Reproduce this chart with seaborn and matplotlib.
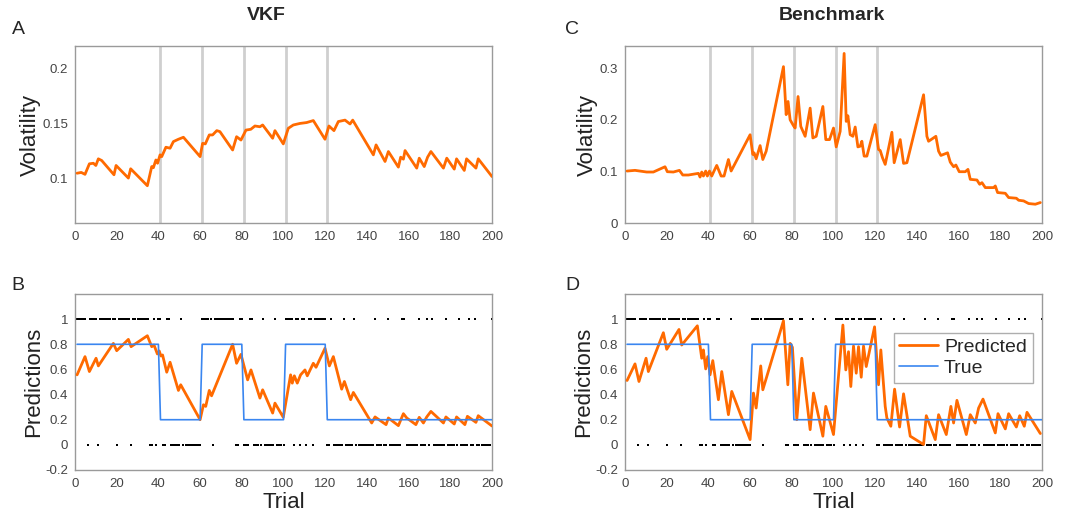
import numpy as np
import pandas as pd
import matplotlib
matplotlib.use("Agg")
import matplotlib.pyplot as plt
import seaborn as sns

# Datos
trials = list(range(1, 201))
outcomes = [
    1, 1, 1, 1, 1, 0, 1, 1, 1, 1, 0, 1, 1, 1, 1, 1, 1, 1, 1, 0,
    1, 1, 1, 1, 1, 1, 0, 1, 1, 1, 1, 1, 1, 1, 1, 0, 0, 1, 0, 1,
    1, 0, 0, 1, 1, 0, 0, 0, 0, 0, 1, 0, 0, 0, 0, 0, 0, 0, 0, 0,
    1, 1, 1, 1, 1, 0, 1, 1, 1, 1, 1, 1, 1, 1, 1, 1, 0, 0, 1, 1,
    0, 0, 0, 1, 1, 0, 0, 0, 0, 1, 0, 0, 0, 0, 0, 1, 0, 0, 0, 0,
    1, 1, 1, 1, 0, 1, 1, 0, 1, 1, 0, 1, 1, 0, 1, 1, 1, 1, 1, 1,
    0, 0, 1, 0, 0, 0, 0, 0, 1, 0, 0, 0, 0, 1, 0, 0, 0, 0, 0, 0,
    0, 0, 0, 1, 0, 0, 0, 0, 0, 1, 0, 0, 0, 0, 0, 0, 1, 1, 0, 0,
    0, 0, 0, 0, 1, 0, 0, 0, 1, 0, 1, 0, 0, 0, 0, 0, 0, 1, 0, 0,
    0, 0, 0, 1, 0, 0, 0, 0, 1, 0, 0, 1, 0, 0, 0, 0, 0, 0, 0, 1,
]
change_points = [41, 61, 81, 101, 121]

true_x = [1, 40, 41, 60, 61, 80, 81, 100, 101, 120, 121, 200]
true_y = [0.8, 0.8, 0.2, 0.2, 0.8, 0.8, 0.2, 0.2, 0.8, 0.8, 0.2, 0.2]

vkf_vol = [
    (1, .105), (3, .1057), (4.8, .104), (6.9, .1135), (8.8, .114), (10, .112),
    (11.2, .118), (12.8, .1165), (18.7, .1036), (19.7, .112), (25.6, .1006),
    (26.7, .109), (34.7, .0937), (36.8, .111), (37.6, .110), (38.8, .117),
    (39.6, .114), (40.8, .1216), (41.6, .120), (43.6, .1285), (45.6, .1276),
    (47.2, .1336), (49.6, .1357), (52, .1375), (60, .120), (61.2, .132),
    (62.5, .1315), (64.4, .1396), (66, .1396), (68, .1435), (69.5, .1426),
    (75.6, .126), (77.5, .138), (79.6, .135), (82, .144), (84.3, .1447),
    (86.3, .1477), (88.7, .147), (90, .1486), (94.8, .1366), (95.9, .1435),
    (99.9, .1315), (102.3, .1456), (104.7, .1486), (107.9, .150), (111.1, .1508),
    (112.7, .1517), (114.3, .1526), (119.9, .1357), (121.8, .1477), (124.2, .1435),
    (126.3, .1517), (129.5, .153), (131.9, .1495), (133.2, .153), (143.1, .1216),
    (144.4, .1306), (148.7, .1156), (150.3, .1246), (155.1, .1105), (156.2, .1195),
    (157.5, .1177), (158.3, .1255), (163.9, .1096), (165.1, .1186), (167.5, .111),
    (169.1, .1195), (170.7, .1246), (176.7, .1096), (178.3, .1186), (181.9, .1087),
    (183, .118), (186.7, .1075), (187.8, .118), (192.3, .1096), (193.4, .118),
    (200, .102),
]

bench_vol = [
    (1, .1007), (4.8, .102), (10.4, .0988), (13.6, .0988), (19.2, .109),
    (20.3, .0994), (23.2, .0988), (26.1, .102), (27.7, .093), (30.4, .093),
    (35.2, .0962), (36, .089), (36.8, .0988), (37.6, .091), (38.7, .1007),
    (39.5, .091), (40.5, .1007), (41.6, .091), (42.7, .1007), (44, .1116),
    (46.1, .091), (47.5, .091), (49.6, .123), (50.9, .1007), (60, .171),
    (61.3, .1328), (61.9, .136), (62.9, .1244), (64.8, .150), (66.1, .123),
    (67.7, .139), (76, .303), (77.3, .210), (78.2, .2355), (79.2, .200),
    (80.8, .1886), (81.6, .184), (83, .2451), (84.3, .1873), (86.4, .168),
    (88.8, .2226), (90.1, .1648), (91.7, .168), (94.9, .2258), (96.3, .1616),
    (98.1, .1616), (100, .184), (101.3, .1475), (103.2, .1777), (105.1, .3286),
    (106.1, .1969), (106.9, .2078), (108, .1712), (109.3, .168), (110.4, .186),
    (111.7, .1475), (112.8, .1488), (113.6, .1584), (114.7, .1296), (116, .1296),
    (120, .1906), (121.6, .1424), (122.4, .1405), (123.5, .1264), (124.8, .1136),
    (128, .1758), (129.1, .1168), (132, .1616), (133.6, .1155), (135.2, .1168),
    (143.2, .2485), (144.8, .168), (145.6, .1584), (149.1, .168), (150.4, .1392),
    (151.5, .1309), (154.7, .136), (156, .118), (157.6, .109), (158.7, .1123),
    (160.3, .0994), (163.2, .0994), (164.5, .1039), (165.6, .0846), (168.8, .0833),
    (170.1, .075), (171.2, .0782), (172.8, .0686), (176.8, .0686), (177.6, .0718),
    (178.7, .059), (182.4, .0576), (184, .0493), (187.7, .048), (188.8, .0441),
    (191.2, .0428), (193.6, .0377), (196.8, .0364), (199.2, .0396),
]

vkf_pred = [
    (1, .557), (4.8, .702), (6.9, .583), (10.1, .689), (11.2, .628), (18.4, .807),
    (20, .749), (25.6, .839), (26.9, .781), (34.7, .868), (36.8, .781), (37.9, .794),
    (39.5, .723), (40.4, .747), (41.2, .707), (42, .715), (44, .578), (45.6, .657),
    (49.6, .433), (50.7, .478), (60, .200), (61.6, .319), (62.7, .306), (64.4, .433),
    (65.5, .390), (75.6, .800), (77.5, .649), (79.6, .720), (82.8, .517), (84.4, .596),
    (88.7, .372), (90, .438), (94.8, .253), (95.9, .332), (99.9, .219), (103.4, .557),
    (104.2, .491), (105.2, .549), (106.6, .491), (108.2, .557), (110.3, .596),
    (111.4, .549), (114.3, .649), (115.6, .617), (119.9, .768), (122, .628),
    (123.9, .702), (127.9, .443), (129.2, .504), (132.2, .359), (133.5, .417),
    (142.3, .174), (143.9, .222), (149.2, .161), (150.3, .214), (155.1, .153),
    (157.5, .248), (159.1, .214), (163.5, .161), (165.1, .219), (167.1, .174),
    (168.7, .222), (170.7, .266), (176.7, .174), (177.9, .222), (181.9, .166),
    (183, .222), (187, .161), (188.2, .227), (192.3, .179), (193.4, .232),
    (200, .150),
]

bench_pred = [
    (1, .512), (4.8, .644), (6.7, .504), (10.1, .689), (11.2, .583), (18.4, .892),
    (20, .760), (25.9, .918), (27.2, .794), (34.7, .947), (36.8, .689), (37.6, .755),
    (38.7, .604), (39.7, .702), (40.8, .557), (42.1, .670), (44.8, .359), (46.4, .583),
    (49.6, .240), (51.2, .425), (60, .042), (61.6, .412), (62.9, .293), (65.1, .628),
    (66.1, .438), (76, .987), (78.1, .478), (79.2, .807), (80.3, .776), (82.4, .200),
    (84.8, .689), (88.8, .121), (90.4, .412), (94.9, .069), (96.3, .306), (100, .082),
    (104.5, .953), (105.9, .596), (107.2, .741), (108.3, .464), (109.6, .786),
    (110.9, .570), (112, .781), (113.3, .538), (114.4, .786), (115.7, .623),
    (119.7, .939), (121.6, .478), (122.7, .755), (124.8, .306), (125.6, .214),
    (127.5, .148), (129.3, .443), (131.7, .142), (133.6, .406), (136.8, .069),
    (143.2, .003), (144.5, .232), (148.8, .042), (150.4, .240), (154.1, .082),
    (156.3, .306), (157.6, .174), (159.2, .354), (163.7, .082), (165.6, .240),
    (168, .174), (169.6, .293), (171.7, .364), (177.6, .095), (178.9, .248),
    (182.4, .127), (184, .248), (187.7, .142), (189.3, .232), (191.5, .148),
    (192.8, .259), (199.2, .090),
]

naranja = "#ff6a00"
azul = "#3a86f0"
gris = "#9a9a9a"

sns.set_style("white")
plt.rcParams["font.family"] = ["Liberation Sans", "DejaVu Sans"]

fig = plt.figure(figsize=(10.66, 5.15), dpi=100)
W, H = 1066, 515


def caja(x0, x1, y0, y1):
    return [x0 / W, 1 - y1 / H, (x1 - x0) / W, (y1 - y0) / H]


ax_a = fig.add_axes(caja(75, 492, 46, 223))
ax_c = fig.add_axes(caja(625, 1042, 46, 223))
ax_b = fig.add_axes(caja(75, 492, 294, 470))
ax_d = fig.add_axes(caja(625, 1042, 294, 470))

df_obs = pd.DataFrame({"trial": trials, "outcome": outcomes})
df_true = pd.DataFrame({"trial": true_x, "p": true_y})


def estilo(ax):
    for s in ax.spines.values():
        s.set_color(gris)
        s.set_linewidth(1)
    ax.set_xlim(0, 200)
    ax.set_xticks(range(0, 201, 20))
    ax.tick_params(axis="both", labelsize=9.5, colors="#444444", length=0)
    ax.tick_params(axis="x", pad=6)
    ax.tick_params(axis="y", pad=5)
    ax.set_xlabel("")
    ax.set_ylabel("")


# Volatilidad
for ax, datos in [(ax_a, vkf_vol), (ax_c, bench_vol)]:
    for cp in change_points:
        ax.axvline(cp, color="#cfcfcf", lw=2, zorder=1)
    d = pd.DataFrame(datos, columns=["trial", "vol"])
    sns.lineplot(data=d, x="trial", y="vol", ax=ax, color=naranja, lw=2,
                 estimator=None, sort=False, zorder=3)
    estilo(ax)

ax_a.set_ylim(0.06, 0.22)
ax_a.set_yticks([0.1, 0.15, 0.2])
ax_a.set_yticklabels(["0.1", "0.15", "0.2"])
ax_c.set_ylim(0, 0.343)
ax_c.set_yticks([0, 0.1, 0.2, 0.3])
ax_c.set_yticklabels(["0", "0.1", "0.2", "0.3"])
ax_a.set_ylabel("Volatility", fontsize=16, color="#222222", labelpad=1)
ax_c.set_ylabel("Volatility", fontsize=16, color="#222222", labelpad=1)

# Predicciones
for ax, datos in [(ax_b, vkf_pred), (ax_d, bench_pred)]:
    sns.scatterplot(data=df_obs, x="trial", y="outcome", ax=ax, color="black",
                    marker="s", s=4, linewidth=0, zorder=2)
    d = pd.DataFrame(datos, columns=["trial", "p"])
    sns.lineplot(data=d, x="trial", y="p", ax=ax, color=naranja, lw=2,
                 estimator=None, sort=False, zorder=3, label="Predicted")
    sns.lineplot(data=df_true, x="trial", y="p", ax=ax, color=azul, lw=1.2,
                 estimator=None, sort=False, zorder=4, label="True")
    estilo(ax)
    ax.set_ylim(-0.2, 1.2)
    ax.set_yticks([-0.2, 0, 0.2, 0.4, 0.6, 0.8, 1])
    ax.set_yticklabels(["-0.2", "0", "0.2", "0.4", "0.6", "0.8", "1"])
    ax.set_ylabel("Predictions", fontsize=16, color="#222222", labelpad=1)
    ax.set_xlabel("Trial", fontsize=16, color="#222222", labelpad=1)

ax_b.get_legend().remove()
leg = ax_d.legend(loc="upper right", bbox_to_anchor=(0.978, 0.78), fontsize=14,
                  frameon=True, fancybox=False, handlelength=2.0,
                  borderpad=0.3, labelspacing=0.15, handletextpad=0.3,
                  borderaxespad=0)
leg.get_frame().set_edgecolor(gris)
leg.get_frame().set_linewidth(1)

# Titulos y letras
fig.text(266 / W, 1 - 16 / H, "VKF", fontsize=14, fontweight="bold",
         ha="center", va="center")
fig.text(832 / W, 1 - 16 / H, "Benchmark", fontsize=14, fontweight="bold",
         ha="center", va="center")
for letra, x, y in [("A", 18, 29), ("B", 18, 286), ("C", 572, 29), ("D", 572, 286)]:
    fig.text(x / W, 1 - y / H, letra, fontsize=14, ha="center", va="center")

plt.savefig("out.png", dpi=100)
